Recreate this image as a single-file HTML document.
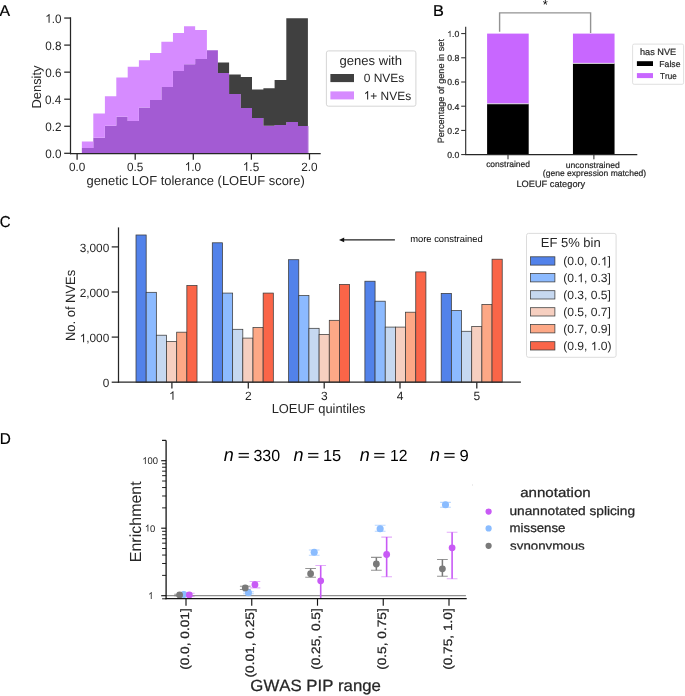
<!DOCTYPE html>
<html><head><meta charset="utf-8"><style>
html,body{margin:0;padding:0;background:#fff;}
svg{display:block;will-change:transform;}
text{font-family:"Liberation Sans", sans-serif;font-kerning:none;text-rendering:geometricPrecision;}
</style></head><body>
<svg width="685" height="696" viewBox="0 0 685 696">
<rect x="0" y="0" width="685" height="696" fill="#fff"/>
<text x="-0.43" y="15.6" font-size="15.6" fill="#000" textLength="10.56" lengthAdjust="spacingAndGlyphs" stroke="#000" stroke-width="0.2">A</text>
<path d="M81.85 147.9H93.3V153.6H81.85ZM93.3 137.8H104.9V153.6H93.3ZM104.9 125.7H116.3V153.6H104.9ZM116.3 116.7H127.7V153.6H116.3ZM127.7 121H138.9V153.6H127.7ZM138.9 107.6H150V153.6H138.9ZM150 100.1H161.35V153.6H150ZM161.35 86.9H172.95V153.6H161.35ZM172.95 71H184V153.6H172.95ZM184 64.3H195.15V153.6H184ZM195.15 59H206.9V153.6H195.15ZM206.9 50.2H217.9V153.6H206.9ZM217.9 73H229.1V153.6H217.9ZM229.1 94H240.8V153.6H229.1ZM240.8 108.1H252V153.6H240.8ZM252 117.9H263.4V153.6H252ZM263.4 125.8H274.6V153.6H263.4ZM274.6 125.1H286.3V153.6H274.6ZM286.3 122.1H298V153.6H286.3ZM298 126.1H307.9V153.6H298Z" fill="#a35bd3"/>
<path d="M81.85 141.5H93.3V147.9H81.85ZM93.3 113.4H104.9V137.8H93.3ZM104.9 96.2H116.3V125.7H104.9ZM116.3 77.5H127.7V116.7H116.3ZM127.7 66.7H138.9V121H127.7ZM138.9 60.2H150V107.6H138.9ZM150 53.1H161.35V100.1H150ZM161.35 41.7H172.95V86.9H161.35ZM172.95 33.1H184V71H172.95ZM184 26.3H195.15V64.3H184ZM195.15 30.1H206.9V59H195.15Z" fill="#d68bff"/>
<path d="M217.9 62.5H229.1V73H217.9ZM229.1 74.4H240.8V94H229.1ZM240.8 77H252V108.1H240.8ZM252 89.5H263.4V117.9H252ZM263.4 88.3H274.6V125.8H263.4ZM274.6 80.1H286.3V125.1H274.6ZM286.3 18.2H298V122.1H286.3ZM298 18.2H307.9V126.1H298Z" fill="#404040"/>
<rect x="307.9" y="126.1" width="0.9" height="27.5" fill="#a35bd3" fill-opacity="0.55"/>
<line x1="70.5" y1="17.3" x2="70.5" y2="154.2" stroke="#262626" stroke-width="1.25"/>
<line x1="69.9" y1="153.6" x2="320.7" y2="153.6" stroke="#262626" stroke-width="1.25"/>
<line x1="64.2" y1="153.3" x2="70.5" y2="153.3" stroke="#262626" stroke-width="1.25"/>
<text x="45.23" y="157.9" font-size="12.2" fill="#262626" textLength="16.28" lengthAdjust="spacingAndGlyphs">0.0</text>
<line x1="64.2" y1="126.25" x2="70.5" y2="126.25" stroke="#262626" stroke-width="1.25"/>
<text x="45.36" y="130.85" font-size="12.2" fill="#262626" textLength="16.28" lengthAdjust="spacingAndGlyphs">0.2</text>
<line x1="64.2" y1="99.2" x2="70.5" y2="99.2" stroke="#262626" stroke-width="1.25"/>
<text x="45.11" y="103.8" font-size="12.2" fill="#262626" textLength="16.28" lengthAdjust="spacingAndGlyphs">0.4</text>
<line x1="64.2" y1="72.15" x2="70.5" y2="72.15" stroke="#262626" stroke-width="1.25"/>
<text x="45.28" y="76.75" font-size="12.2" fill="#262626" textLength="16.28" lengthAdjust="spacingAndGlyphs">0.6</text>
<line x1="64.2" y1="45.1" x2="70.5" y2="45.1" stroke="#262626" stroke-width="1.25"/>
<text x="45.28" y="49.7" font-size="12.2" fill="#262626" textLength="16.28" lengthAdjust="spacingAndGlyphs">0.8</text>
<line x1="64.2" y1="18.05" x2="70.5" y2="18.05" stroke="#262626" stroke-width="1.25"/>
<text x="45.23" y="22.65" font-size="12.2" fill="#262626" textLength="16.28" lengthAdjust="spacingAndGlyphs"> .0</text>
<path d="M49.59,22.65L48.56,22.65L48.56,15.82Q48.19,16.19 47.58,16.56Q46.98,16.93 46.5,17.11L46.5,16.07Q47.36,15.65 48.01,15.05Q48.65,14.45 48.92,13.88L49.59,13.88Z" fill="#262626"/>
<line x1="77.1" y1="153.6" x2="77.1" y2="159.7" stroke="#262626" stroke-width="1.25"/>
<text x="68.93" y="170.7" font-size="12" fill="#262626" textLength="16.35" lengthAdjust="spacingAndGlyphs">0.0</text>
<line x1="135.2" y1="153.6" x2="135.2" y2="159.7" stroke="#262626" stroke-width="1.25"/>
<text x="127.04" y="170.7" font-size="12" fill="#262626" textLength="16.35" lengthAdjust="spacingAndGlyphs">0.5</text>
<line x1="193.3" y1="153.6" x2="193.3" y2="159.7" stroke="#262626" stroke-width="1.25"/>
<text x="184.72" y="170.7" font-size="12" fill="#262626" textLength="16.35" lengthAdjust="spacingAndGlyphs"> .0</text>
<path d="M189.1,170.7L188.07,170.7L188.07,163.98Q187.69,164.34 187.08,164.71Q186.48,165.07 185.99,165.25L185.99,164.23Q186.86,163.82 187.51,163.22Q188.16,162.63 188.43,162.07L189.1,162.07Z" fill="#262626"/>
<line x1="251.4" y1="153.6" x2="251.4" y2="159.7" stroke="#262626" stroke-width="1.25"/>
<text x="242.84" y="170.7" font-size="12" fill="#262626" textLength="16.35" lengthAdjust="spacingAndGlyphs"> .5</text>
<path d="M247.22,170.7L246.18,170.7L246.18,163.98Q245.81,164.34 245.2,164.71Q244.59,165.07 244.11,165.25L244.11,164.23Q244.98,163.82 245.63,163.22Q246.28,162.63 246.54,162.07L247.22,162.07Z" fill="#262626"/>
<line x1="309.5" y1="153.6" x2="309.5" y2="159.7" stroke="#262626" stroke-width="1.25"/>
<text x="301.26" y="170.7" font-size="12" fill="#262626" textLength="16.35" lengthAdjust="spacingAndGlyphs">2.0</text>
<text x="86.46" y="185.1" font-size="13" fill="#262626" textLength="218.25" lengthAdjust="spacingAndGlyphs">genetic LOF tolerance (LOEUF score)</text>
<text transform="translate(41.1,108.45) rotate(-90)" x="0" y="0" font-size="13" fill="#262626" textLength="42.88" lengthAdjust="spacingAndGlyphs">Density</text>
<rect x="326.4" y="50.9" width="89.5" height="55.3" rx="2" ry="2" fill="#fff" stroke="#d0d0d0" stroke-width="0.9"/>
<text x="339.55" y="65.1" font-size="13" fill="#262626" textLength="62.4" lengthAdjust="spacingAndGlyphs">genes with</text>
<rect x="330.4" y="74" width="23.6" height="8.1" fill="#404040"/>
<text x="363.73" y="82.1" font-size="12" fill="#262626" textLength="40.6" lengthAdjust="spacingAndGlyphs">0 NVEs</text>
<rect x="330.4" y="91.4" width="23.6" height="8" fill="#d68bff"/>
<text x="363.71" y="99.6" font-size="12" fill="#262626" textLength="47.42" lengthAdjust="spacingAndGlyphs"> + NVEs</text>
<path d="M368.15,99.6L367.1,99.6L367.1,92.88Q366.72,93.24 366.11,93.61Q365.49,93.97 365,94.15L365,93.13Q365.88,92.72 366.54,92.12Q367.2,91.53 367.47,90.97L368.15,90.97Z" fill="#262626"/>
<text x="432.96" y="15.8" font-size="15.8" fill="#000" textLength="10.9" lengthAdjust="spacingAndGlyphs" stroke="#000" stroke-width="0.2">B</text>
<rect x="487.1" y="33.6" width="41.6" height="70.18" fill="#c867ff"/>
<rect x="487.1" y="103.78" width="41.6" height="50.82" fill="#000"/>
<line x1="487.1" y1="103.78" x2="528.7" y2="103.78" stroke="#fff" stroke-width="0.8"/>
<rect x="572.95" y="33.6" width="41.6" height="29.77" fill="#c867ff"/>
<rect x="572.95" y="63.37" width="41.6" height="91.23" fill="#000"/>
<line x1="572.95" y1="63.37" x2="614.55" y2="63.37" stroke="#fff" stroke-width="0.8"/>
<polyline points="499.6,31.7 499.6,12.9 590.6,12.9 590.6,33.1" fill="none" stroke="#939393" stroke-width="1.4"/>
<text x="542.77" y="9.2" font-size="13" fill="#000">*</text>
<line x1="465.7" y1="26.7" x2="465.7" y2="155.1" stroke="#262626" stroke-width="1.1"/>
<line x1="465.2" y1="154.6" x2="637.3" y2="154.6" stroke="#262626" stroke-width="1.1"/>
<line x1="461.2" y1="154.6" x2="465.7" y2="154.6" stroke="#262626" stroke-width="1"/>
<text x="447.25" y="158" font-size="8.7" fill="#262626" stroke="#262626" stroke-width="0.2">0.0</text>
<line x1="461.2" y1="130.4" x2="465.7" y2="130.4" stroke="#262626" stroke-width="1"/>
<text x="447.34" y="133.8" font-size="8.7" fill="#262626" stroke="#262626" stroke-width="0.2">0.2</text>
<line x1="461.2" y1="106.2" x2="465.7" y2="106.2" stroke="#262626" stroke-width="1"/>
<text x="447.16" y="109.6" font-size="8.7" fill="#262626" stroke="#262626" stroke-width="0.2">0.4</text>
<line x1="461.2" y1="82" x2="465.7" y2="82" stroke="#262626" stroke-width="1"/>
<text x="447.29" y="85.4" font-size="8.7" fill="#262626" stroke="#262626" stroke-width="0.2">0.6</text>
<line x1="461.2" y1="57.8" x2="465.7" y2="57.8" stroke="#262626" stroke-width="1"/>
<text x="447.28" y="61.2" font-size="8.7" fill="#262626" stroke="#262626" stroke-width="0.2">0.8</text>
<line x1="461.2" y1="33.6" x2="465.7" y2="33.6" stroke="#262626" stroke-width="1"/>
<text x="447.25" y="37" font-size="8.7" fill="#262626" stroke="#262626" stroke-width="0.2"> .0</text>
<path d="M450.49,37L449.72,37L449.72,32.13Q449.45,32.39 449,32.65Q448.55,32.92 448.19,33.05L448.19,32.31Q448.83,32.01 449.31,31.58Q449.79,31.15 449.99,30.75L450.49,30.75Z" fill="#262626"/>
<line x1="508" y1="154.6" x2="508" y2="159.3" stroke="#262626" stroke-width="1"/>
<line x1="593.9" y1="154.6" x2="593.9" y2="159.3" stroke="#262626" stroke-width="1"/>
<text x="486.14" y="167.4" font-size="8.5" fill="#262626" textLength="43.91" lengthAdjust="spacingAndGlyphs" stroke="#262626" stroke-width="0.2">constrained</text>
<text x="565.74" y="167.5" font-size="8.5" fill="#262626" textLength="54.11" lengthAdjust="spacingAndGlyphs" stroke="#262626" stroke-width="0.2">unconstrained</text>
<text x="542.87" y="176" font-size="8.5" fill="#262626" textLength="103.36" lengthAdjust="spacingAndGlyphs" stroke="#262626" stroke-width="0.2">(gene expression matched)</text>
<text x="516.44" y="186.8" font-size="9.2" fill="#262626" textLength="68.78" lengthAdjust="spacingAndGlyphs" stroke="#262626" stroke-width="0.2">LOEUF category</text>
<text transform="translate(443.5,143.35) rotate(-90)" x="0" y="0" font-size="9.1" fill="#262626" textLength="104.32" lengthAdjust="spacingAndGlyphs" stroke="#262626" stroke-width="0.2">Percentage of gene in set</text>
<rect x="632.6" y="44.1" width="51" height="40.2" rx="1.5" ry="1.5" fill="#fff" stroke="#d8d8d8" stroke-width="0.8"/>
<text x="639.96" y="54.5" font-size="9.2" fill="#262626" textLength="36.23" lengthAdjust="spacingAndGlyphs" stroke="#262626" stroke-width="0.2">has NVE</text>
<rect x="636.9" y="61.2" width="16.1" height="4.8" fill="#000"/>
<text x="659.29" y="66.7" font-size="8.7" fill="#262626" textLength="21.2" lengthAdjust="spacingAndGlyphs" stroke="#262626" stroke-width="0.2">False</text>
<rect x="636.9" y="73.1" width="16.1" height="5" fill="#c867ff"/>
<text x="660.02" y="78.8" font-size="8.7" fill="#262626" textLength="16.64" lengthAdjust="spacingAndGlyphs" stroke="#262626" stroke-width="0.2">True</text>
<text x="-0.16" y="227.3" font-size="15.8" fill="#000" textLength="10.83" lengthAdjust="spacingAndGlyphs" stroke="#000" stroke-width="0.2">C</text>
<rect x="136" y="234.99" width="10.17" height="147.21" fill="#5282ea" stroke="#3a3a3a" stroke-width="0.75"/>
<rect x="146.17" y="292.32" width="10.17" height="89.88" fill="#8cbaff" stroke="#3a3a3a" stroke-width="0.75"/>
<rect x="156.34" y="335.21" width="10.17" height="46.99" fill="#c6d8f0" stroke="#3a3a3a" stroke-width="0.75"/>
<rect x="166.51" y="341.61" width="10.17" height="40.59" fill="#f6cfc0" stroke="#3a3a3a" stroke-width="0.75"/>
<rect x="176.68" y="332.18" width="10.17" height="50.02" fill="#fda886" stroke="#3a3a3a" stroke-width="0.75"/>
<rect x="186.85" y="285.51" width="10.17" height="96.69" fill="#fa6548" stroke="#3a3a3a" stroke-width="0.75"/>
<rect x="212.3" y="242.8" width="10.17" height="139.4" fill="#5282ea" stroke="#3a3a3a" stroke-width="0.75"/>
<rect x="222.47" y="293.08" width="10.17" height="89.12" fill="#8cbaff" stroke="#3a3a3a" stroke-width="0.75"/>
<rect x="232.64" y="329.3" width="10.17" height="52.9" fill="#c6d8f0" stroke="#3a3a3a" stroke-width="0.75"/>
<rect x="242.81" y="338.09" width="10.17" height="44.11" fill="#f6cfc0" stroke="#3a3a3a" stroke-width="0.75"/>
<rect x="252.98" y="327.58" width="10.17" height="54.62" fill="#fda886" stroke="#3a3a3a" stroke-width="0.75"/>
<rect x="263.15" y="293.08" width="10.17" height="89.12" fill="#fa6548" stroke="#3a3a3a" stroke-width="0.75"/>
<rect x="288.6" y="259.71" width="10.17" height="122.49" fill="#5282ea" stroke="#3a3a3a" stroke-width="0.75"/>
<rect x="298.77" y="295.61" width="10.17" height="86.59" fill="#8cbaff" stroke="#3a3a3a" stroke-width="0.75"/>
<rect x="308.94" y="328.31" width="10.17" height="53.89" fill="#c6d8f0" stroke="#3a3a3a" stroke-width="0.75"/>
<rect x="319.11" y="334.39" width="10.17" height="47.81" fill="#f6cfc0" stroke="#3a3a3a" stroke-width="0.75"/>
<rect x="329.28" y="320.32" width="10.17" height="61.88" fill="#fda886" stroke="#3a3a3a" stroke-width="0.75"/>
<rect x="339.45" y="284.42" width="10.17" height="97.78" fill="#fa6548" stroke="#3a3a3a" stroke-width="0.75"/>
<rect x="364.9" y="281.22" width="10.17" height="100.98" fill="#5282ea" stroke="#3a3a3a" stroke-width="0.75"/>
<rect x="375.07" y="301.2" width="10.17" height="81" fill="#8cbaff" stroke="#3a3a3a" stroke-width="0.75"/>
<rect x="385.24" y="327.09" width="10.17" height="55.11" fill="#c6d8f0" stroke="#3a3a3a" stroke-width="0.75"/>
<rect x="395.41" y="327.09" width="10.17" height="55.11" fill="#f6cfc0" stroke="#3a3a3a" stroke-width="0.75"/>
<rect x="405.58" y="312.2" width="10.17" height="70" fill="#fda886" stroke="#3a3a3a" stroke-width="0.75"/>
<rect x="415.75" y="271.89" width="10.17" height="110.31" fill="#fa6548" stroke="#3a3a3a" stroke-width="0.75"/>
<rect x="441.2" y="293.4" width="10.17" height="88.8" fill="#5282ea" stroke="#3a3a3a" stroke-width="0.75"/>
<rect x="451.37" y="310.49" width="10.17" height="71.71" fill="#8cbaff" stroke="#3a3a3a" stroke-width="0.75"/>
<rect x="461.54" y="331.28" width="10.17" height="50.92" fill="#c6d8f0" stroke="#3a3a3a" stroke-width="0.75"/>
<rect x="471.71" y="326.41" width="10.17" height="55.79" fill="#f6cfc0" stroke="#3a3a3a" stroke-width="0.75"/>
<rect x="481.88" y="304.4" width="10.17" height="77.8" fill="#fda886" stroke="#3a3a3a" stroke-width="0.75"/>
<rect x="492.05" y="259.21" width="10.17" height="122.99" fill="#fa6548" stroke="#3a3a3a" stroke-width="0.75"/>
<line x1="118.5" y1="227.4" x2="118.5" y2="382.8" stroke="#262626" stroke-width="1.25"/>
<line x1="117.9" y1="382.2" x2="520.9" y2="382.2" stroke="#262626" stroke-width="1.25"/>
<line x1="111.7" y1="382.2" x2="118.5" y2="382.2" stroke="#262626" stroke-width="1.25"/>
<text x="102.69" y="387.4" font-size="12" fill="#262626" textLength="6.57" lengthAdjust="spacingAndGlyphs">0</text>
<line x1="111.7" y1="337.1" x2="118.5" y2="337.1" stroke="#262626" stroke-width="1.25"/>
<text x="79.68" y="342.3" font-size="12" fill="#262626" textLength="29.58" lengthAdjust="spacingAndGlyphs"> ,000</text>
<path d="M84.09,342.3L83.05,342.3L83.05,335.58Q82.67,335.94 82.06,336.31Q81.45,336.67 80.96,336.85L80.96,335.83Q81.84,335.42 82.49,334.82Q83.14,334.23 83.41,333.67L84.09,333.67Z" fill="#262626"/>
<line x1="111.7" y1="292" x2="118.5" y2="292" stroke="#262626" stroke-width="1.25"/>
<text x="79.68" y="297.2" font-size="12" fill="#262626" textLength="29.58" lengthAdjust="spacingAndGlyphs">2,000</text>
<line x1="111.7" y1="246.9" x2="118.5" y2="246.9" stroke="#262626" stroke-width="1.25"/>
<text x="79.68" y="252.1" font-size="12" fill="#262626" textLength="29.58" lengthAdjust="spacingAndGlyphs">3,000</text>
<line x1="171.9" y1="382.2" x2="171.9" y2="388.5" stroke="#262626" stroke-width="1.25"/>
<text x="169.01" y="399.8" font-size="12" fill="#262626"> </text>
<path d="M173.48,399.8L172.43,399.8L172.43,393.08Q172.05,393.44 171.43,393.81Q170.81,394.17 170.32,394.35L170.32,393.33Q171.2,392.92 171.86,392.32Q172.52,391.73 172.8,391.18L173.48,391.18Z" fill="#262626"/>
<line x1="248.3" y1="382.2" x2="248.3" y2="388.5" stroke="#262626" stroke-width="1.25"/>
<text x="244.96" y="399.8" font-size="12" fill="#262626">2</text>
<line x1="324.2" y1="382.2" x2="324.2" y2="388.5" stroke="#262626" stroke-width="1.25"/>
<text x="320.9" y="399.8" font-size="12" fill="#262626">3</text>
<line x1="400" y1="382.2" x2="400" y2="388.5" stroke="#262626" stroke-width="1.25"/>
<text x="396.7" y="399.8" font-size="12" fill="#262626">4</text>
<line x1="476.8" y1="382.2" x2="476.8" y2="388.5" stroke="#262626" stroke-width="1.25"/>
<text x="473.47" y="399.8" font-size="12" fill="#262626">5</text>
<text x="271.64" y="413.1" font-size="13" fill="#262626" textLength="93.92" lengthAdjust="spacingAndGlyphs">LOEUF quintiles</text>
<text transform="translate(74.8,340.96) rotate(-90)" x="0" y="0" font-size="13.4" fill="#262626" textLength="71.13" lengthAdjust="spacingAndGlyphs">No. of NVEs</text>
<line x1="343" y1="239.9" x2="394.9" y2="239.9" stroke="#222" stroke-width="1.4"/>
<polygon points="339,239.9 344.2,237.5 344.2,242.3" fill="#111"/>
<text x="410.18" y="241.6" font-size="9.4" fill="#000" textLength="72.53" lengthAdjust="spacingAndGlyphs">more constrained</text>
<rect x="526.5" y="233.4" width="89.6" height="123.9" rx="2" ry="2" fill="#fff" stroke="#d8d8d8" stroke-width="0.9"/>
<text x="540.73" y="247" font-size="13" fill="#262626" textLength="60.01" lengthAdjust="spacingAndGlyphs">EF 5% bin</text>
<rect x="530.6" y="256.8" width="24.3" height="8.3" fill="#5282ea" stroke="#3a3a3a" stroke-width="0.75"/>
<text x="563.15" y="265.4" font-size="12" fill="#262626" textLength="47.81" lengthAdjust="spacingAndGlyphs">(0.0, 0. ]</text>
<path d="M605.37,265.4L604.31,265.4L604.31,258.68Q603.92,259.04 603.3,259.41Q602.67,259.77 602.17,259.95L602.17,258.93Q603.07,258.52 603.73,257.92Q604.4,257.33 604.68,256.78L605.37,256.78Z" fill="#262626"/>
<rect x="530.6" y="273.6" width="24.3" height="8.3" fill="#8cbaff" stroke="#3a3a3a" stroke-width="0.75"/>
<text x="563.15" y="282.2" font-size="12" fill="#262626" textLength="47.81" lengthAdjust="spacingAndGlyphs">(0. , 0.3]</text>
<path d="M581.8,282.2L580.74,282.2L580.74,275.48Q580.35,275.84 579.72,276.21Q579.1,276.57 578.6,276.75L578.6,275.73Q579.49,275.32 580.16,274.72Q580.83,274.13 581.11,273.58L581.8,273.58Z" fill="#262626"/>
<rect x="530.6" y="290.7" width="24.3" height="8.3" fill="#c6d8f0" stroke="#3a3a3a" stroke-width="0.75"/>
<text x="563.15" y="299.3" font-size="12" fill="#262626" textLength="47.81" lengthAdjust="spacingAndGlyphs">(0.3, 0.5]</text>
<rect x="530.6" y="307.7" width="24.3" height="8.3" fill="#f6cfc0" stroke="#3a3a3a" stroke-width="0.75"/>
<text x="563.15" y="316.3" font-size="12" fill="#262626" textLength="47.81" lengthAdjust="spacingAndGlyphs">(0.5, 0.7]</text>
<rect x="530.6" y="324.6" width="24.3" height="8.3" fill="#fda886" stroke="#3a3a3a" stroke-width="0.75"/>
<text x="563.15" y="333.2" font-size="12" fill="#262626" textLength="47.81" lengthAdjust="spacingAndGlyphs">(0.7, 0.9]</text>
<rect x="530.6" y="341.7" width="24.3" height="8.3" fill="#fa6548" stroke="#3a3a3a" stroke-width="0.75"/>
<text x="563.15" y="350.3" font-size="12" fill="#262626" textLength="48.5" lengthAdjust="spacingAndGlyphs">(0.9,  .0)</text>
<path d="M595.28,350.3L594.22,350.3L594.22,343.58Q593.83,343.94 593.21,344.31Q592.58,344.67 592.08,344.85L592.08,343.83Q592.97,343.42 593.64,342.82Q594.31,342.23 594.59,341.68L595.28,341.68Z" fill="#262626"/>
<rect x="472" y="484" width="1" height="2" fill="#ececec"/>
<text x="-0.26" y="444.1" font-size="15.8" fill="#000" textLength="11.1" lengthAdjust="spacingAndGlyphs" stroke="#000" stroke-width="0.2">D</text>
<line x1="166.1" y1="595.6" x2="465.9" y2="595.6" stroke="#909090" stroke-width="1.2"/>
<clipPath id="dclip"><rect x="166" y="430" width="320" height="168.6"/></clipPath>
<g clip-path="url(#dclip)">
<line x1="183.8" y1="594.1" x2="183.8" y2="595.1" stroke="#8abcff" stroke-width="1" stroke-opacity="0.6"/>
<line x1="178.45" y1="594.1" x2="189.15" y2="594.1" stroke="#8abcff" stroke-width="1.1" stroke-opacity="0.6"/>
<line x1="178.45" y1="595.1" x2="189.15" y2="595.1" stroke="#8abcff" stroke-width="1.1" stroke-opacity="0.6"/>
<line x1="179.6" y1="594.2" x2="179.6" y2="595.6" stroke="#7a7a7a" stroke-width="1.5" stroke-opacity="1"/>
<line x1="174.25" y1="594.2" x2="184.95" y2="594.2" stroke="#7a7a7a" stroke-width="1.1" stroke-opacity="0.8"/>
<line x1="174.25" y1="595.6" x2="184.95" y2="595.6" stroke="#7a7a7a" stroke-width="1.1" stroke-opacity="0.8"/>
<line x1="189.3" y1="593.2" x2="189.3" y2="596.5" stroke="#c85af5" stroke-width="1.6" stroke-opacity="1"/>
<line x1="183.95" y1="593.2" x2="194.65" y2="593.2" stroke="#c85af5" stroke-width="1.1" stroke-opacity="0.5"/>
<line x1="183.95" y1="596.5" x2="194.65" y2="596.5" stroke="#c85af5" stroke-width="1.1" stroke-opacity="0.5"/>
<line x1="248.45" y1="591.8" x2="248.45" y2="593.8" stroke="#8abcff" stroke-width="1" stroke-opacity="0.6"/>
<line x1="243.1" y1="591.8" x2="253.8" y2="591.8" stroke="#8abcff" stroke-width="1.1" stroke-opacity="0.6"/>
<line x1="243.1" y1="593.8" x2="253.8" y2="593.8" stroke="#8abcff" stroke-width="1.1" stroke-opacity="0.6"/>
<line x1="245.25" y1="586.2" x2="245.25" y2="589.5" stroke="#7a7a7a" stroke-width="1.5" stroke-opacity="1"/>
<line x1="239.9" y1="586.2" x2="250.6" y2="586.2" stroke="#7a7a7a" stroke-width="1.1" stroke-opacity="0.8"/>
<line x1="239.9" y1="589.5" x2="250.6" y2="589.5" stroke="#7a7a7a" stroke-width="1.1" stroke-opacity="0.8"/>
<line x1="254.95" y1="581.5" x2="254.95" y2="587.9" stroke="#c85af5" stroke-width="1.6" stroke-opacity="1"/>
<line x1="249.6" y1="581.5" x2="260.3" y2="581.5" stroke="#c85af5" stroke-width="1.1" stroke-opacity="0.5"/>
<line x1="249.6" y1="587.9" x2="260.3" y2="587.9" stroke="#c85af5" stroke-width="1.1" stroke-opacity="0.5"/>
<line x1="314.2" y1="550" x2="314.2" y2="555.2" stroke="#8abcff" stroke-width="1" stroke-opacity="0.6"/>
<line x1="308.85" y1="550" x2="319.55" y2="550" stroke="#8abcff" stroke-width="1.1" stroke-opacity="0.6"/>
<line x1="308.85" y1="555.2" x2="319.55" y2="555.2" stroke="#8abcff" stroke-width="1.1" stroke-opacity="0.6"/>
<line x1="310.6" y1="568.5" x2="310.6" y2="577.3" stroke="#7a7a7a" stroke-width="1.5" stroke-opacity="1"/>
<line x1="305.25" y1="568.5" x2="315.95" y2="568.5" stroke="#7a7a7a" stroke-width="1.1" stroke-opacity="0.8"/>
<line x1="305.25" y1="577.3" x2="315.95" y2="577.3" stroke="#7a7a7a" stroke-width="1.1" stroke-opacity="0.8"/>
<line x1="320.7" y1="565.5" x2="320.7" y2="600" stroke="#c85af5" stroke-width="1.6" stroke-opacity="1"/>
<line x1="315.35" y1="565.5" x2="326.05" y2="565.5" stroke="#c85af5" stroke-width="1.1" stroke-opacity="0.5"/>
<line x1="315.35" y1="600" x2="326.05" y2="600" stroke="#c85af5" stroke-width="1.1" stroke-opacity="0.5"/>
<line x1="380.15" y1="525.3" x2="380.15" y2="531.3" stroke="#8abcff" stroke-width="1" stroke-opacity="0.6"/>
<line x1="374.8" y1="525.3" x2="385.5" y2="525.3" stroke="#8abcff" stroke-width="1.1" stroke-opacity="0.6"/>
<line x1="374.8" y1="531.3" x2="385.5" y2="531.3" stroke="#8abcff" stroke-width="1.1" stroke-opacity="0.6"/>
<line x1="376.35" y1="557.4" x2="376.35" y2="570.3" stroke="#7a7a7a" stroke-width="1.5" stroke-opacity="1"/>
<line x1="371" y1="557.4" x2="381.7" y2="557.4" stroke="#7a7a7a" stroke-width="1.1" stroke-opacity="0.8"/>
<line x1="371" y1="570.3" x2="381.7" y2="570.3" stroke="#7a7a7a" stroke-width="1.1" stroke-opacity="0.8"/>
<line x1="386.65" y1="537.1" x2="386.65" y2="576.7" stroke="#c85af5" stroke-width="1.6" stroke-opacity="1"/>
<line x1="381.3" y1="537.1" x2="392" y2="537.1" stroke="#c85af5" stroke-width="1.1" stroke-opacity="0.5"/>
<line x1="381.3" y1="576.7" x2="392" y2="576.7" stroke="#c85af5" stroke-width="1.1" stroke-opacity="0.5"/>
<line x1="445.5" y1="502.4" x2="445.5" y2="507.2" stroke="#8abcff" stroke-width="1" stroke-opacity="0.6"/>
<line x1="440.15" y1="502.4" x2="450.85" y2="502.4" stroke="#8abcff" stroke-width="1.1" stroke-opacity="0.6"/>
<line x1="440.15" y1="507.2" x2="450.85" y2="507.2" stroke="#8abcff" stroke-width="1.1" stroke-opacity="0.6"/>
<line x1="442.4" y1="559.5" x2="442.4" y2="576.2" stroke="#7a7a7a" stroke-width="1.5" stroke-opacity="1"/>
<line x1="437.05" y1="559.5" x2="447.75" y2="559.5" stroke="#7a7a7a" stroke-width="1.1" stroke-opacity="0.8"/>
<line x1="437.05" y1="576.2" x2="447.75" y2="576.2" stroke="#7a7a7a" stroke-width="1.1" stroke-opacity="0.8"/>
<line x1="452.1" y1="532.2" x2="452.1" y2="578.8" stroke="#c85af5" stroke-width="1.6" stroke-opacity="1"/>
<line x1="446.75" y1="532.2" x2="457.45" y2="532.2" stroke="#c85af5" stroke-width="1.1" stroke-opacity="0.5"/>
<line x1="446.75" y1="578.8" x2="457.45" y2="578.8" stroke="#c85af5" stroke-width="1.1" stroke-opacity="0.5"/>
<circle cx="183.8" cy="594.6" r="3.55" fill="#8abcff"/>
<circle cx="179.6" cy="594.9" r="3.4" fill="#7a7a7a"/>
<circle cx="189.3" cy="594.9" r="3.4" fill="#c85af5"/>
<circle cx="248.45" cy="592.8" r="3.55" fill="#8abcff"/>
<circle cx="245.25" cy="587.9" r="3.4" fill="#7a7a7a"/>
<circle cx="254.95" cy="584.7" r="3.4" fill="#c85af5"/>
<circle cx="314.2" cy="552.3" r="3.55" fill="#8abcff"/>
<circle cx="310.6" cy="573.7" r="3.4" fill="#7a7a7a"/>
<circle cx="320.7" cy="580.8" r="3.4" fill="#c85af5"/>
<circle cx="380.15" cy="528.8" r="3.55" fill="#8abcff"/>
<circle cx="376.35" cy="564" r="3.4" fill="#7a7a7a"/>
<circle cx="386.65" cy="554.5" r="3.4" fill="#c85af5"/>
<circle cx="445.5" cy="504.7" r="3.55" fill="#8abcff"/>
<circle cx="442.4" cy="568.8" r="3.4" fill="#7a7a7a"/>
<circle cx="452.1" cy="547.8" r="3.4" fill="#c85af5"/>
</g>
<line x1="166.1" y1="440.4" x2="166.1" y2="599.2" stroke="#151515" stroke-width="1.3"/>
<line x1="165.5" y1="598.6" x2="466.7" y2="598.6" stroke="#151515" stroke-width="1.3"/>
<line x1="161.2" y1="595.7" x2="166.1" y2="595.7" stroke="#151515" stroke-width="1.15"/>
<text x="148.14" y="599" font-size="9.7" fill="#262626" textLength="5.23" lengthAdjust="spacingAndGlyphs"> </text>
<path d="M151.64,599L150.82,599L150.82,593.57Q150.52,593.86 150.03,594.15Q149.54,594.45 149.16,594.6L149.16,593.77Q149.85,593.43 150.37,592.96Q150.89,592.48 151.11,592.03L151.64,592.03Z" fill="#262626"/>
<line x1="161.2" y1="528.2" x2="166.1" y2="528.2" stroke="#151515" stroke-width="1.15"/>
<text x="144.84" y="531.5" font-size="9.7" fill="#262626" textLength="10.47" lengthAdjust="spacingAndGlyphs"> 0</text>
<path d="M148.35,531.5L147.52,531.5L147.52,526.07Q147.22,526.36 146.73,526.65Q146.25,526.95 145.86,527.1L145.86,526.27Q146.55,525.93 147.07,525.46Q147.59,524.98 147.81,524.53L148.35,524.53Z" fill="#262626"/>
<line x1="161.2" y1="460.7" x2="166.1" y2="460.7" stroke="#151515" stroke-width="1.15"/>
<text x="142.22" y="464" font-size="9.7" fill="#262626" textLength="15.7" lengthAdjust="spacingAndGlyphs"> 00</text>
<path d="M145.73,464L144.9,464L144.9,458.57Q144.6,458.86 144.12,459.15Q143.63,459.45 143.24,459.6L143.24,458.77Q143.94,458.43 144.46,457.96Q144.98,457.48 145.19,457.03L145.73,457.03Z" fill="#262626"/>
<line x1="162.1" y1="598.79" x2="166.1" y2="598.79" stroke="#151515" stroke-width="0.95"/>
<line x1="162.1" y1="575.38" x2="166.1" y2="575.38" stroke="#151515" stroke-width="0.95"/>
<line x1="162.1" y1="563.49" x2="166.1" y2="563.49" stroke="#151515" stroke-width="0.95"/>
<line x1="162.1" y1="555.06" x2="166.1" y2="555.06" stroke="#151515" stroke-width="0.95"/>
<line x1="162.1" y1="548.52" x2="166.1" y2="548.52" stroke="#151515" stroke-width="0.95"/>
<line x1="162.1" y1="543.17" x2="166.1" y2="543.17" stroke="#151515" stroke-width="0.95"/>
<line x1="162.1" y1="538.66" x2="166.1" y2="538.66" stroke="#151515" stroke-width="0.95"/>
<line x1="162.1" y1="534.74" x2="166.1" y2="534.74" stroke="#151515" stroke-width="0.95"/>
<line x1="162.1" y1="531.29" x2="166.1" y2="531.29" stroke="#151515" stroke-width="0.95"/>
<line x1="162.1" y1="507.88" x2="166.1" y2="507.88" stroke="#151515" stroke-width="0.95"/>
<line x1="162.1" y1="495.99" x2="166.1" y2="495.99" stroke="#151515" stroke-width="0.95"/>
<line x1="162.1" y1="487.56" x2="166.1" y2="487.56" stroke="#151515" stroke-width="0.95"/>
<line x1="162.1" y1="481.02" x2="166.1" y2="481.02" stroke="#151515" stroke-width="0.95"/>
<line x1="162.1" y1="475.67" x2="166.1" y2="475.67" stroke="#151515" stroke-width="0.95"/>
<line x1="162.1" y1="471.16" x2="166.1" y2="471.16" stroke="#151515" stroke-width="0.95"/>
<line x1="162.1" y1="467.24" x2="166.1" y2="467.24" stroke="#151515" stroke-width="0.95"/>
<line x1="162.1" y1="463.79" x2="166.1" y2="463.79" stroke="#151515" stroke-width="0.95"/>
<line x1="162.1" y1="440.38" x2="166.1" y2="440.38" stroke="#151515" stroke-width="0.95"/>
<line x1="162.1" y1="440.38" x2="166.1" y2="440.38" stroke="#151515" stroke-width="0.95"/>
<line x1="186" y1="598.6" x2="186" y2="605.7" stroke="#151515" stroke-width="1.15"/>
<text transform="translate(188.7,669.85) rotate(-90)" x="0" y="0" font-size="12.1" fill="#262626" textLength="61.62" lengthAdjust="spacingAndGlyphs" stroke="#262626" stroke-width="0.25">(0.0, 0.01]</text>
<line x1="251.75" y1="598.6" x2="251.75" y2="605.7" stroke="#151515" stroke-width="1.15"/>
<text transform="translate(254.45,677.45) rotate(-90)" x="0" y="0" font-size="12.1" fill="#262626" textLength="69.22" lengthAdjust="spacingAndGlyphs" stroke="#262626" stroke-width="0.25">(0.01, 0.25]</text>
<line x1="317.5" y1="598.6" x2="317.5" y2="605.7" stroke="#151515" stroke-width="1.15"/>
<text transform="translate(320.2,669.85) rotate(-90)" x="0" y="0" font-size="12.1" fill="#262626" textLength="61.62" lengthAdjust="spacingAndGlyphs" stroke="#262626" stroke-width="0.25">(0.25, 0.5]</text>
<line x1="383.25" y1="598.6" x2="383.25" y2="605.7" stroke="#151515" stroke-width="1.15"/>
<text transform="translate(385.95,669.85) rotate(-90)" x="0" y="0" font-size="12.1" fill="#262626" textLength="61.62" lengthAdjust="spacingAndGlyphs" stroke="#262626" stroke-width="0.25">(0.5, 0.75]</text>
<line x1="449" y1="598.6" x2="449" y2="605.7" stroke="#151515" stroke-width="1.15"/>
<text transform="translate(451.7,669.85) rotate(-90)" x="0" y="0" font-size="12.1" fill="#262626" textLength="61.62" lengthAdjust="spacingAndGlyphs" stroke="#262626" stroke-width="0.25">(0.75, 1.0]</text>
<text transform="translate(140.6,562.21) rotate(-90)" x="0" y="0" font-size="16" fill="#262626" textLength="80.93" lengthAdjust="spacingAndGlyphs">Enrichment</text>
<text x="250.36" y="690.9" font-size="16.3" fill="#262626" textLength="130.59" lengthAdjust="spacingAndGlyphs" stroke="#262626" stroke-width="0.25">GWAS PIP range</text>
<text x="223.7" y="460.6" font-size="18.5" fill="#000" textLength="10.02" lengthAdjust="spacingAndGlyphs" font-style="italic">n</text>
<rect x="238.6" y="452.95" width="10.3" height="1.3" fill="#111"/>
<rect x="238.6" y="456.55" width="10.3" height="1.3" fill="#111"/>
<text x="253.39" y="460.6" font-size="16.1" fill="#000" textLength="26.74" lengthAdjust="spacingAndGlyphs">330</text>
<text x="293.6" y="460.6" font-size="18.5" fill="#000" textLength="10.02" lengthAdjust="spacingAndGlyphs" font-style="italic">n</text>
<rect x="308.1" y="452.95" width="10.3" height="1.3" fill="#111"/>
<rect x="308.1" y="456.55" width="10.3" height="1.3" fill="#111"/>
<text x="322.94" y="460.6" font-size="16.1" fill="#000" textLength="18.35" lengthAdjust="spacingAndGlyphs">15</text>
<text x="359.8" y="460.6" font-size="18.5" fill="#000" textLength="10.02" lengthAdjust="spacingAndGlyphs" font-style="italic">n</text>
<rect x="374.2" y="452.95" width="10.3" height="1.3" fill="#111"/>
<rect x="374.2" y="456.55" width="10.3" height="1.3" fill="#111"/>
<text x="389.9" y="460.6" font-size="16.1" fill="#000" textLength="17.49" lengthAdjust="spacingAndGlyphs">12</text>
<text x="429.9" y="460.6" font-size="18.5" fill="#000" textLength="10.02" lengthAdjust="spacingAndGlyphs" font-style="italic">n</text>
<rect x="444.3" y="452.95" width="10.3" height="1.3" fill="#111"/>
<rect x="444.3" y="456.55" width="10.3" height="1.3" fill="#111"/>
<text x="459.62" y="460.6" font-size="16.1" fill="#000" textLength="9.27" lengthAdjust="spacingAndGlyphs">9</text>
<text x="520.16" y="497" font-size="13.4" fill="#262626" textLength="70.52" lengthAdjust="spacingAndGlyphs" stroke="#262626" stroke-width="0.25">annotation</text>
<circle cx="488.6" cy="511.6" r="3.1" fill="#c85af5"/>
<circle cx="488.6" cy="528.4" r="3.1" fill="#8abcff"/>
<circle cx="488.6" cy="545.8" r="3.1" fill="#7a7a7a"/>
<clipPath id="lclip"><rect x="500" y="490" width="150" height="59.5"/></clipPath>
<text x="509.51" y="514.6" font-size="12.4" fill="#262626" textLength="125.57" lengthAdjust="spacingAndGlyphs" stroke="#262626" stroke-width="0.25">unannotated splicing</text>
<text x="509.62" y="532" font-size="12.4" fill="#262626" textLength="55.76" lengthAdjust="spacingAndGlyphs" stroke="#262626" stroke-width="0.25">missense</text>
<text x="510.13" y="549.6" font-size="12.4" fill="#262626" textLength="74.55" lengthAdjust="spacingAndGlyphs" clip-path="url(#lclip)" stroke="#262626" stroke-width="0.25">synonymous</text>
</svg>
</body></html>
